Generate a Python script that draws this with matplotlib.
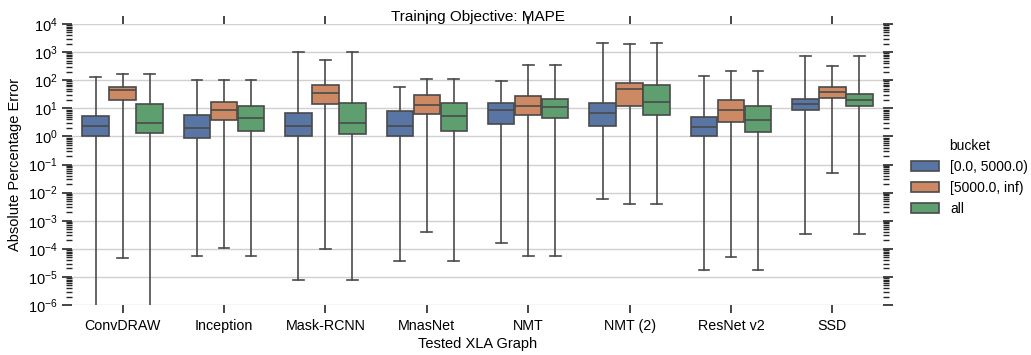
import matplotlib
matplotlib.use("Agg")
import matplotlib.pyplot as plt
import matplotlib.ticker as mticker
import numpy as np
import seaborn as sns

# ---------------------------------------------------------------
# Data (log-scale box statistics)
# ---------------------------------------------------------------
graphs = ["ConvDRAW", "Inception", "Mask-RCNN", "MnasNet", "NMT", "NMT (2)", "ResNet v2", "SSD"]
buckets = ["[0.0, 5000.0)", "[5000.0, inf)", "all"]

# one row per graph, one column per bucket
whislo = np.array([
    [1e-8, 4.7e-5, 1e-8],
    [5.7e-5, 1.04e-4, 5.7e-5],
    [7.6e-6, 1.0e-4, 7.6e-6],
    [3.6e-5, 4.0e-4, 3.6e-5],
    [1.6e-4, 5.5e-5, 5.5e-5],
    [6.0e-3, 3.9e-3, 3.9e-3],
    [1.7e-5, 5.0e-5, 1.7e-5],
    [3.5e-4, 5.0e-2, 3.5e-4],
])
q1 = np.array([
    [1.0, 20.0, 1.3],
    [0.87, 3.7, 1.5],
    [1.0, 14.0, 1.2],
    [1.06, 6.4, 1.6],
    [2.75, 5.6, 4.6],
    [2.4, 11.6, 5.7],
    [1.0, 3.3, 1.47],
    [8.8, 23.0, 11.6],
])
med = np.array([
    [2.26, 45.0, 3.1],
    [1.98, 8.4, 4.5],
    [2.26, 36.0, 3.1],
    [2.4, 13.6, 5.4],
    [8.8, 12.3, 11.3],
    [6.7, 50.0, 16.6],
    [2.2, 8.7, 3.7],
    [14.8, 37.6, 19.0],
])
q3 = np.array([
    [5.4, 56.0, 14.5],
    [5.9, 17.4, 12.3],
    [6.7, 68.0, 15.3],
    [8.1, 29.3, 16.0],
    [15.3, 27.7, 22.3],
    [15.3, 82.0, 66.0],
    [5.1, 19.5, 12.3],
    [21.0, 59.0, 33.0],
])
whishi = np.array([
    [134.0, 167.0, 167.0],
    [100.0, 100.0, 100.0],
    [1000.0, 513.0, 1000.0],
    [56.0, 114.0, 114.0],
    [97.0, 357.0, 357.0],
    [2100.0, 1900.0, 2100.0],
    [142.0, 219.0, 219.0],
    [745.0, 313.0, 745.0],
])

plt.rcParams["font.family"] = ["Liberation Sans", "DejaVu Sans"]
plt.rcParams["mathtext.fontset"] = "cm"

colors = [sns.desaturate(c, 0.75) for c in sns.color_palette("deep", 3)]
line_color = "#4a4a4a"
box_w = 0.8 / len(buckets)

fig = plt.figure(figsize=(10.31, 3.55), dpi=100)
ax = fig.add_axes([0.0698, 0.1408, 0.7867, 0.7916])

x = np.arange(len(graphs))
for j, name in enumerate(buckets):
    stats = [
        dict(med=med[i, j], q1=q1[i, j], q3=q3[i, j],
             whislo=whislo[i, j], whishi=whishi[i, j], fliers=[])
        for i in range(len(graphs))
    ]
    pos = x + (j - 1) * box_w
    ax.bxp(
        stats, positions=pos, widths=box_w * 0.98, capwidths=box_w * 0.4,
        patch_artist=True, showfliers=False, manage_ticks=False,
        boxprops=dict(facecolor=colors[j], edgecolor=line_color, linewidth=1.2),
        medianprops=dict(color=line_color, linewidth=1.2),
        whiskerprops=dict(color=line_color, linewidth=1.2),
        capprops=dict(color=line_color, linewidth=1.2),
    )

ax.set_yscale("log")
ax.set_ylim(1e-6, 1e4)
ax.set_xlim(-0.5, len(graphs) - 0.5)
ax.yaxis.set_major_locator(mticker.LogLocator(base=10, numticks=20))
ax.yaxis.set_minor_locator(mticker.LogLocator(base=10, subs=np.arange(2, 10), numticks=100))
ax.yaxis.set_minor_formatter(mticker.NullFormatter())
ax.set_xticks(x)
ax.set_xticklabels(graphs, fontsize=10.3)

for s in ax.spines.values():
    s.set_visible(False)
ax.yaxis.grid(True, which="major", color="#d0d0d0", linewidth=1)
ax.set_axisbelow(True)
ax.tick_params(axis="x", which="both", direction="out", top=True, bottom=True,
               length=6, width=1.2, color="#262626", pad=4)
ax.tick_params(axis="y", which="major", direction="out", left=True, right=True,
               length=7, width=1.2, color="#262626", labelsize=10.5)
ax.tick_params(axis="y", which="minor", direction="out", left=True, right=True,
               length=4, width=1, color="#262626")

ax.set_xlabel("Tested XLA Graph", fontsize=10.5, labelpad=3)
ax.set_ylabel("Absolute Percentage Error", fontsize=10.5)
ax.set_title("Training Objective: MAPE", fontsize=11, pad=1)

handles = [plt.Rectangle((0, 0), 1, 1, facecolor=colors[j], edgecolor=line_color, linewidth=1.2)
           for j in range(len(buckets))]
fig.legend(handles, buckets, title="bucket", loc="center left", bbox_to_anchor=(0.884, 0.5),
           frameon=False, fontsize=10, title_fontsize=10, handlelength=2.0,
           handletextpad=0.8, borderaxespad=0.0, borderpad=0.0)

fig.savefig("out.png", dpi=100)
